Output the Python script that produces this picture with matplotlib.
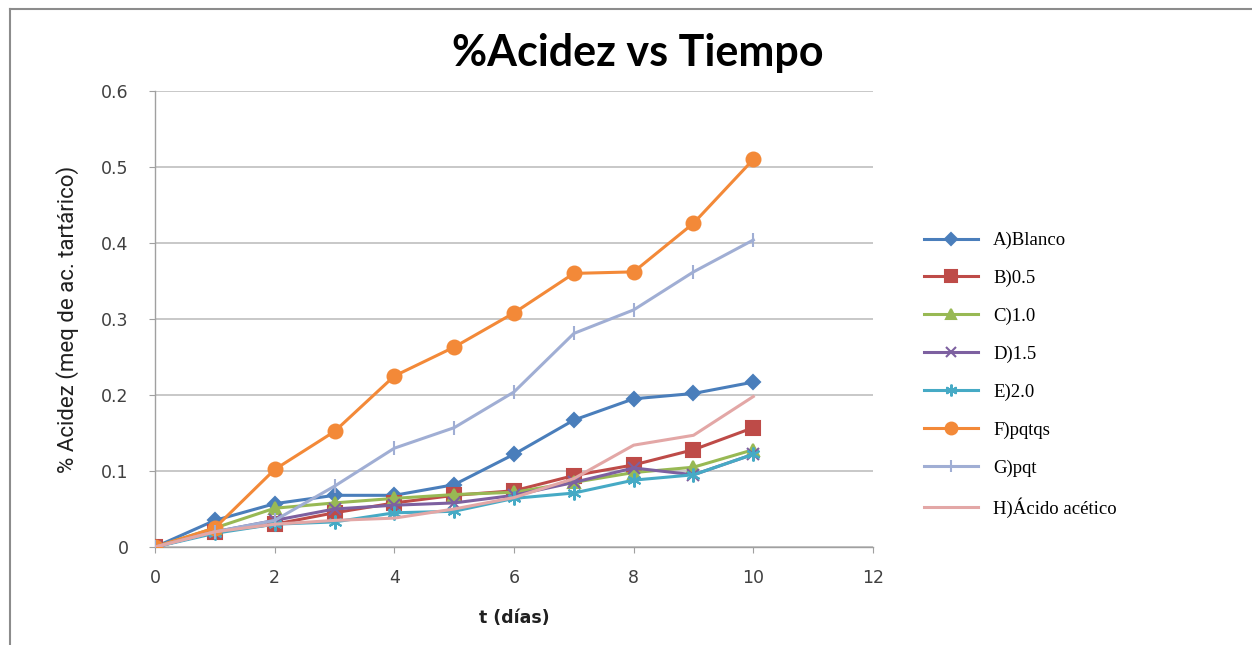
import matplotlib
matplotlib.use("Agg")
import matplotlib.pyplot as plt
from matplotlib.lines import Line2D

dias = [0, 1, 2, 3, 4, 5, 6, 7, 8, 9, 10]

A_blanco = [0, 0.035, 0.057, 0.068, 0.068, 0.082, 0.122, 0.167, 0.195, 0.202, 0.217]
B_05 = [0, 0.020, 0.030, 0.045, 0.058, 0.068, 0.074, 0.094, 0.108, 0.128, 0.157]
C_10 = [0, 0.025, 0.051, 0.058, 0.064, 0.069, 0.072, 0.085, 0.098, 0.105, 0.128]
D_15 = [0, 0.020, 0.035, 0.050, 0.055, 0.058, 0.068, 0.085, 0.104, 0.095, 0.122]
E_20 = [0, 0.018, 0.030, 0.033, 0.045, 0.047, 0.064, 0.071, 0.088, 0.095, 0.122]
F_pqtqs = [0, 0.025, 0.102, 0.152, 0.225, 0.263, 0.308, 0.360, 0.362, 0.426, 0.510]
G_pqt = [0, 0.020, 0.035, 0.080, 0.130, 0.157, 0.204, 0.281, 0.312, 0.362, 0.404]
H_acetico = [0, 0.020, 0.030, 0.035, 0.038, 0.050, 0.065, 0.090, 0.134, 0.147, 0.198]

labels = ["A)Blanco", "B)0.5", "C)1.0", "D)1.5", "E)2.0", "F)pqtqs", "G)pqt", "H)Ácido acético"]
series = [A_blanco, B_05, C_10, D_15, E_20, F_pqtqs, G_pqt, H_acetico]
colors = ["#4A7EBB", "#BE4B48", "#98B954", "#7D60A0", "#46AAC5", "#F38938", "#A0AED4", "#E3A7A6"]
markers = ["D", "s", "^", "x", (6, 2, 0), "o", "|", None]
msizes = [7, 10, 9, 8, 10, 10, 10, 0]

fig = plt.figure(figsize=(12.52, 6.45), dpi=100)
W, H = 1252, 645
ax = fig.add_axes([155 / W, 1 - 547 / H, (873 - 155) / W, (547 - 91) / H])

handles = []
for vals, lab, c, m, ms in zip(series, labels, colors, markers, msizes):
    ln, = ax.plot(dias, vals, color=c, lw=2.2, marker=m, markersize=ms,
                  markeredgecolor=c, markerfacecolor=c, markeredgewidth=1.5,
                  label=lab, solid_joinstyle="round", zorder=3)
    handles.append(ln)

ax.set_xlim(0, 12)
ax.set_ylim(0, 0.6)
ax.set_xticks([0, 2, 4, 6, 8, 10, 12])
ax.set_yticks([0, 0.1, 0.2, 0.3, 0.4, 0.5, 0.6])
ax.set_yticklabels(["0", "0.1", "0.2", "0.3", "0.4", "0.5", "0.6"])
ax.set_xticklabels(["0", "2", "4", "6", "8", "10", "12"])
ax.yaxis.grid(True, color="#BFBFBF", lw=1.2)
ax.set_axisbelow(True)
for s in ["top", "right"]:
    ax.spines[s].set_visible(False)
for s in ["left", "bottom"]:
    ax.spines[s].set_color("#A0A0A0")
    ax.spines[s].set_linewidth(1.0)
ax.tick_params(axis="both", colors="#A0A0A0", labelcolor="#404040", labelsize=12.5, length=4)
ax.tick_params(axis="x", pad=12)
ax.tick_params(axis="y", pad=15)

ax.set_xlabel("t (días)", fontsize=12.5, fontweight="bold", color="#202020", labelpad=16)
ax.set_ylabel("% Acidez (meq de ac. tartárico)", fontsize=16,
              family=["Liberation Sans Narrow", "Roboto", "DejaVu Sans"], color="#202020", labelpad=16)

fig.text(638 / W, 1 - 53 / H, "%Acidez vs Tiempo", ha="center", va="center",
         fontsize=31, fontweight="bold", family=["Lato", "DejaVu Sans"], color="#000000")

leg = fig.legend(handles=handles, loc="upper left", bbox_to_anchor=(907 / W, 1 - 215 / H),
                 frameon=False, prop={"family": ["Liberation Serif", "DejaVu Serif"], "size": 13.5},
                 handlelength=2.9, handletextpad=0.8, labelspacing=1.1, markerscale=0.85)

# outer chart border (top and left visible)
fig.add_artist(Line2D([10 / W, 1.0], [1 - 9 / H, 1 - 9 / H], transform=fig.transFigure,
                      color="#8C8C8C", lw=1.5))
fig.add_artist(Line2D([10 / W, 10 / W], [0, 1 - 9 / H], transform=fig.transFigure,
                      color="#8C8C8C", lw=1.5))

fig.savefig("out.png", dpi=100)
